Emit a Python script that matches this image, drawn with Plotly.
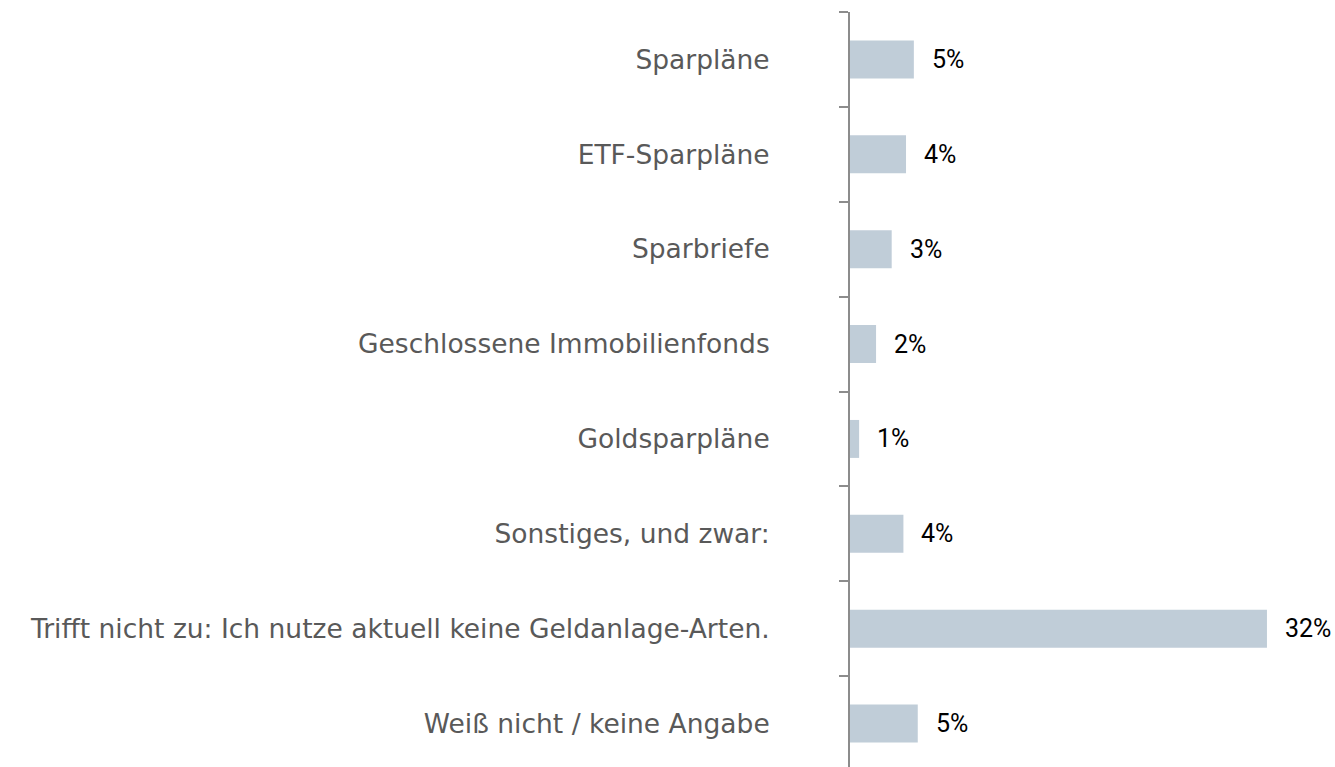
import plotly.graph_objects as go

categories = [
    "Sparpläne",
    "ETF-Sparpläne",
    "Sparbriefe",
    "Geschlossene Immobilienfonds",
    "Goldsparpläne",
    "Sonstiges, und zwar:",
    "Trifft nicht zu: Ich nutze aktuell keine Geldanlage-Arten.",
    "Weiß nicht / keine Angabe",
]
values = [4.9, 4.3, 3.2, 2.0, 0.7, 4.1, 32.0, 5.2]
value_labels = ["5%", "4%", "3%", "2%", "1%", "4%", "32%", "5%"]

fig = go.Figure()
fig.add_trace(go.Bar(
    x=values,
    y=categories,
    orientation="h",
    marker=dict(color="#C0CDD8", line=dict(width=0)),
    width=0.4,
    hoverinfo="skip",
))

for v, c, t in zip(values, categories, value_labels):
    fig.add_annotation(
        x=v, y=c, text=t, showarrow=False,
        xanchor="left", yanchor="middle", xshift=16,
        font=dict(family="Roboto, Liberation Sans, sans-serif", size=25, color="#000000"),
    )

fig.update_layout(
    width=1335, height=771,
    margin=dict(l=850, r=20, t=12, b=0),
    plot_bgcolor="white", paper_bgcolor="white",
    showlegend=False,
    xaxis=dict(range=[0, 465 / 13.03], visible=False, showgrid=False, zeroline=False),
    yaxis=dict(
        autorange="reversed",
        showline=True, linecolor="#8C8C8C", linewidth=2,
        ticks="outside", ticklen=9, tickwidth=2, tickcolor="#8C8C8C",
        tickson="boundaries",
        ticklabelstandoff=73,
        showgrid=False, zeroline=False,
        tickfont=dict(family="DejaVu Sans, Verdana, sans-serif", size=26.5, color="#595959"),
    ),
)

fig.write_html(
    "out.html",
    config={"displayModeBar": False},
    post_script="document.body.style.margin='0';document.body.style.overflow='hidden';",
)
